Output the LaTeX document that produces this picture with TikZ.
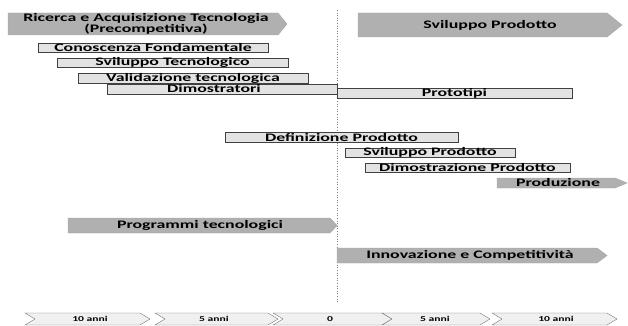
\documentclass[tikz,border=0pt]{standalone}
\usepackage{fontspec}
\setmainfont{Carlito}[FakeStretch=1.55]
\begin{document}
\begin{tikzpicture}[x=1pt, y=-1pt,
    box/.style={draw=black!75, fill=gray!22, line width=0.5pt},
    bigarrow/.style={draw=gray!70, fill=gray!62, line width=0.4pt},
    chev/.style={draw=black!55, fill=gray!12, line width=0.4pt},
    lbl/.style={font=\fontsize{11.5}{11}\selectfont\bfseries, inner sep=0pt, align=center},
    tiny/.style={font=\fontsize{7.5}{8}\selectfont\bfseries, inner sep=0pt}]
  \useasboundingbox (0,0) rectangle (628,326);

  % time axis at zero
  \coordinate (zerotop) at (337,10);
  \coordinate (zerobot) at (337,302);
  \draw [gray, dotted, line width=0.6pt] (zerotop) -- (zerobot);

  % big phases
  \draw [bigarrow] (8,13) -- (278,13) -- (287,24) -- (278,35) -- (8,35) -- cycle;
  \node [lbl] (ricerca) at (146,24) {Ricerca e Acquisizione Tecnologia\\(Precompetitiva)};
  \draw [bigarrow] (358,13) -- (607,13) -- (622,25) -- (607,37) -- (358,37) -- cycle;
  \node [lbl] (svprod) at (490,25) {Sviluppo Prodotto};

  % technology side
  \draw [box] (38,43) rectangle (268,52) node [lbl, pos=0.5] (conosc) {Conoscenza Fondamentale};
  \draw [box] (57,58) rectangle (288,67) node [lbl, pos=0.5] (svtec) {Sviluppo Tecnologico};
  \draw [box] (78,73) rectangle (308,83) node [lbl, pos=0.5] (valid) {Validazione tecnologica};
  \draw [box] (107,84) rectangle (337,94) node [lbl, pos=0.5, xshift=-8pt] (dimo) {Dimostratori};
  \draw [box] (337,88) rectangle (572,98) node [lbl, pos=0.5] (proto) {Prototipi};

  % product side
  \draw [box] (225,132) rectangle (458,142) node [lbl, pos=0.5] (defprod) {Definizione Prodotto};
  \draw [box] (345,148) rectangle (515,157) node [lbl, pos=0.5] (svprodb) {Sviluppo Prodotto};
  \draw [box] (365,163) rectangle (570,172) node [lbl, pos=0.5] (dimprod) {Dimostrazione Prodotto};
  \draw [bigarrow] (497,178) -- (615,178) -- (627,183) -- (615,188) -- (497,188) -- cycle;
  \node [lbl] (produz) at (558,183) {Produzione};

  % programmes
  \draw [bigarrow] (68,218) -- (330,218) -- (337,225.5) -- (330,233) -- (68,233) -- cycle;
  \node [lbl] (progr) at (200,225.5) {Programmi tecnologici};
  \draw [bigarrow] (337,248) -- (597,248) -- (607,255.5) -- (597,263) -- (337,263) -- cycle;
  \node [lbl] (innov) at (470,255.5) {Innovazione e Competitività};

  % years
  \draw [chev] (25,313) -- (140,313) -- (150,319) -- (140,325) -- (25,325) -- (35,319) -- cycle;
  \node [tiny] (ym10) at (90,319) {10 anni};
  \draw [chev] (155,313) -- (268,313) -- (278,319) -- (268,325) -- (155,325) -- (165,319) -- cycle;
  \node [tiny] (ym5) at (214,319) {5 anni};
  \draw [chev] (273,313) -- (382,313) -- (392,319) -- (382,325) -- (273,325) -- (283,319) -- cycle;
  \node [tiny] (yzero) at (330,319) {0};
  \draw [chev] (382,313) -- (480,313) -- (490,319) -- (480,325) -- (382,325) -- (392,319) -- cycle;
  \node [tiny] (yp5) at (435,319) {5 anni};
  \draw [chev] (492,313) -- (607,313) -- (617,319) -- (607,325) -- (492,325) -- (502,319) -- cycle;
  \node [tiny] (yp10) at (556,319) {10 anni};
\end{tikzpicture}
\end{document}
